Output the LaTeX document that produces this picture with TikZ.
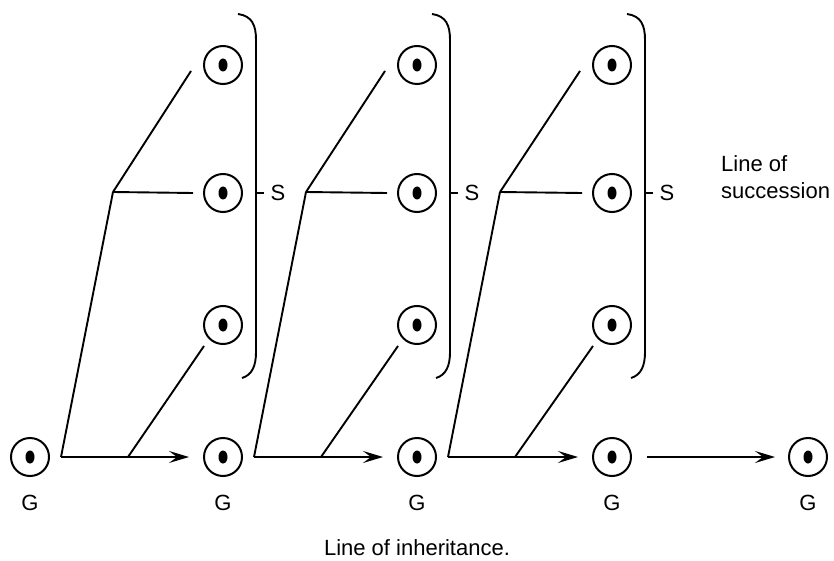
\documentclass[tikz,border=0pt]{standalone}
\usepackage{fontspec}
\setmainfont{Liberation Sans}
\usepackage{tikz}
\usetikzlibrary{arrows.meta, calc}
\definecolor{lineink}{RGB}{0,0,0}

\begin{document}
\begin{tikzpicture}[x=1pt,y=-1pt,
		person/.style={circle,draw=lineink,line width=2pt,minimum size=38pt,inner sep=0pt,
			path picture={\fill[lineink] (path picture bounding box.center) ellipse (4.5pt and 6.5pt);}},
		link/.style={draw=lineink,line width=1.9pt},
		inherit/.style={link,-{Stealth[length=20pt,width=12pt,inset=8pt]}},
		lbl/.style={font=\fontsize{22}{27}\selectfont,inner sep=0pt}]
	\useasboundingbox (0,0) rectangle (834,561);
	% line of inheritance
	\foreach \i/\x in {0/30,1/223,2/417,3/612,4/808}{
		\node[person] (g\i) at (\x,457) {};
		\node[lbl] (gl\i) at (\x,503) {G};
	}
	% each generation with its successors
	\foreach \i/\j/\x in {1/0/223,2/1/417,3/2/612}{
		\node[person] (top\i) at (\x,65) {};
		\node[person] (mid\i) at (\x,193) {};
		\node[person] (low\i) at (\x,325) {};
		\coordinate (st\i) at ($(g\j)+(31,0)$);
		\coordinate (br\i) at ($(g\j)+(83,-265)$);
		\coordinate (ft\i) at ($(g\j)+(98,0)$);
		\draw[link] (st\i) -- (br\i);
		\draw[link] (br\i) -- ([xshift=-32pt,yshift=-6pt]top\i.center);
		\draw[link] (br\i) -- ([xshift=-30pt]mid\i.center);
		\draw[link] (ft\i) -- ([xshift=-19pt,yshift=-21pt]low\i.center);
		\draw[inherit] (st\i) -- ([xshift=-34pt]g\i.center);
		% bracket
		\draw[link] (\x+15,14) .. controls (\x+29,16) and (\x+33,25) .. (\x+33,40)
			-- (\x+33,352) .. controls (\x+33,366) and (\x+29,375) .. (\x+19,378);
		\draw[link] (\x+33,193) -- (\x+41,193);
		\node[lbl] (sl\i) at (\x+55,193) {S};
	}
	\draw[inherit,shorten <=15pt,shorten >=13pt] (g3) -- (g4);
	\node[lbl,align=left,anchor=west] (succ) at (721,177) {Line of\\succession};
	\node[lbl] (inh) at (417,548) {Line of inheritance.};
\end{tikzpicture}
\end{document}
